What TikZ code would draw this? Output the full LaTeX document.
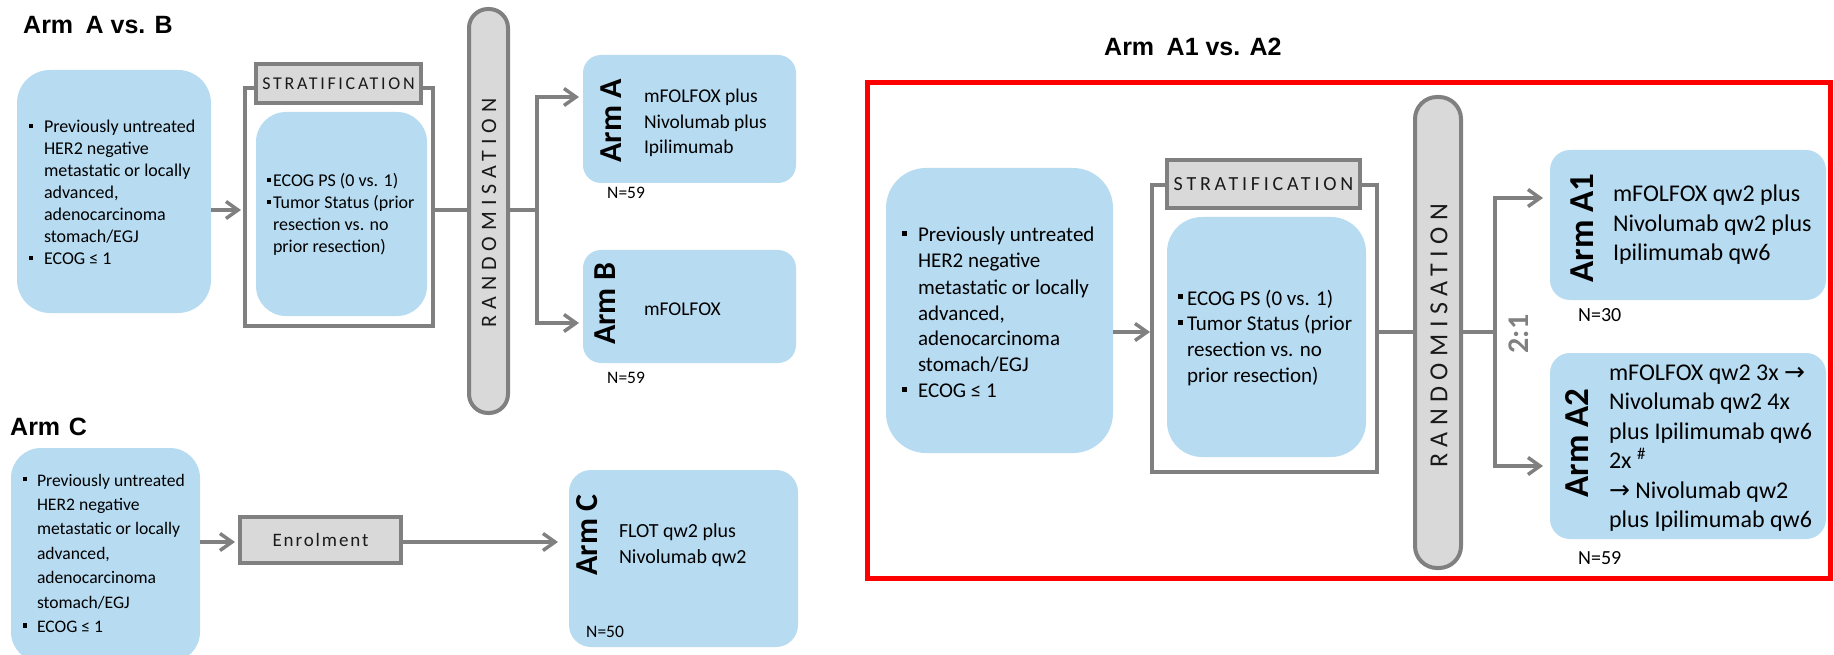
\documentclass[tikz,border=0pt]{standalone}
\usepackage{fontspec}
\setmainfont{Carlito}
\newfontfamily\headfont{Liberation Sans}
\newfontfamily\symfont{DejaVu Sans}
\usetikzlibrary{arrows.meta}
\definecolor{boxblue}{HTML}{B7DBF1}
\definecolor{linegray}{HTML}{808080}
\definecolor{labelgray}{HTML}{D9D9D9}
\definecolor{framered}{HTML}{FF0000}
\definecolor{inkdark}{HTML}{1A1A1A}
\newcommand\bulsq{\rule[0.27em]{0.24em}{0.24em}}
\newcommand\bitem[1]{\makebox[#1][l]{\bulsq}}
\newcommand\bind[1]{\hspace*{#1}}
\newcommand\tblk[4]{\parbox[t]{#1}{\fontsize{#2}{#3}\selectfont #4}}
\newcommand\rarr{{\symfont\fontsize{25}{25}\selectfont →}}
\tikzset{
  bluebox/.style={fill=boxblue, draw=none, rounded corners=#1, inner sep=0pt, outer sep=0pt, anchor=north west},
  bluebox/.default=20pt,
  framebox/.style={draw=linegray, line width=4pt, inner sep=0pt, outer sep=0pt, anchor=north west},
  labelbox/.style={fill=labelgray, draw=linegray, line width=4pt, inner sep=0pt, outer sep=0pt, text=inkdark},
  pillbox/.style={fill=labelgray, draw=linegray, line width=4pt, inner sep=0pt, outer sep=0pt, rounded corners=#1},
  pillbox/.default=19pt,
  conn/.style={draw=linegray, line width=3.5pt},
  arr/.style={conn, -{Straight Barb[length=12pt,width=17pt]}},
  txt/.style={anchor=base west, inner sep=0pt, outer sep=0pt},
  heading/.style={anchor=base west, inner sep=0pt, font=\headfont\bfseries\fontsize{25}{30}\selectfont},
  armlbl/.style={rotate=90, inner sep=0pt, font=\bfseries\fontsize{#1}{#1}\selectfont},
  nlbl/.style={anchor=base west, inner sep=0pt, font=\fontsize{#1}{#1}\selectfont},
  randtxt/.style={rotate=90, inner sep=0pt, text=inkdark},
}
\begin{document}
\begin{tikzpicture}[x=1pt,y=-1pt]
\useasboundingbox (0,0) rectangle (1834,655);

% ---------------- Arm A vs. B ----------------
\node[heading] (titleAB) at (23,34) {Arm\hspace{0.5em}A vs. B};
\node[bluebox=33pt, minimum width=194pt, minimum height=243pt] (L1) at (17,70) {};
\node[txt] (L1t) at (29,133) {\tblk{180pt}{18}{22}{\bitem{15pt}Previously untreated\\ \bind{15pt}HER2 negative\\ \bind{15pt}metastatic or locally\\ \bind{15pt}advanced,\\ \bind{15pt}adenocarcinoma\\ \bind{15pt}stomach/EGJ\\ \bitem{15pt}ECOG ≤ 1}};

\node[framebox, minimum width=188pt, minimum height=238pt] (sfL) at (245,88) {};
\node[bluebox=30pt, minimum width=171pt, minimum height=204pt] (LI) at (256,112) {};
\node[labelbox, minimum width=165pt, minimum height=39pt, font=\fontsize{18}{18}\selectfont\addfontfeatures{LetterSpace=15}] (sLabL) at (338.5,83.5) {STRATIFICATION};
\node[txt] (LIt) at (267,187) {\tblk{160pt}{18}{22}{\bitem{6pt}ECOG PS (0 vs. 1)\\ \bitem{6pt}Tumor Status (prior\\ \bind{6pt}resection vs. no\\ \bind{6pt}prior resection)}};

\node[pillbox=19pt, minimum width=39pt, minimum height=404pt] (pL) at (488.5,211) {};
\node[randtxt, font=\fontsize{22}{22}\selectfont\addfontfeatures{LetterSpace=27}] (rL) at (489,213) {RANDOMISATION};

\node[bluebox=18pt, minimum width=213pt, minimum height=128pt] (armA) at (583,55) {};
\node[armlbl=32] (armAl) at (611,121) {Arm A};
\node[txt] (armAt) at (644,103) {\tblk{150pt}{19.5}{25.5}{mFOLFOX plus\\Nivolumab plus\\Ipilimumab}};
\node[nlbl=17.5] (nA) at (607,199) {N=59};

\node[bluebox=18pt, minimum width=213pt, minimum height=113pt] (armB) at (583,250) {};
\node[armlbl=32] (armBl) at (605,304) {Arm B};
\node[txt, font=\fontsize{19.5}{25.5}\selectfont] (armBt) at (644,315) {mFOLFOX};
\node[nlbl=17.5] (nB) at (607,383) {N=59};

\coordinate (yA) at (0,210);
\coordinate (brL) at (537,210);
\coordinate (yArmA) at (0,97);
\coordinate (yArmB) at (0,323);
\draw[arr, shorten >=4pt] (L1.east |- yA) -- (sfL.west |- yA);
\draw[conn] (sfL.east |- yA) -- (pL.west |- yA);
\draw[conn] (pL.east |- yA) -- (brL);
\draw[arr, shorten >=4pt] (brL) |- (armA.west |- yArmA);
\draw[arr, shorten >=4pt] (brL) |- (armB.west |- yArmB);

% ---------------- Arm C ----------------
\node[heading] (titleC) at (10,435) {Arm\hspace{0.35em}C};
\node[bluebox=30pt, minimum width=189pt, minimum height=214pt] (C1) at (11,448) {};
\node[txt] (C1t) at (23,486) {\tblk{180pt}{17.6}{24.4}{\bitem{14pt}Previously untreated\\ \bind{14pt}HER2 negative\\ \bind{14pt}metastatic or locally\\ \bind{14pt}advanced,\\ \bind{14pt}adenocarcinoma\\ \bind{14pt}stomach/EGJ\\ \bitem{14pt}ECOG ≤ 1}};

\node[labelbox, minimum width=161pt, minimum height=46pt, font=\fontsize{19}{19}\selectfont\addfontfeatures{LetterSpace=10}] (enr) at (320.5,540) {Enrolment};

\node[bluebox=22pt, minimum width=229pt, minimum height=177pt] (armC) at (569,470) {};
\node[armlbl=32] (armCl) at (587,535) {Arm C};
\node[txt] (armCt) at (619,537) {\tblk{160pt}{20}{26}{FLOT qw2 plus\\Nivolumab qw2}};
\node[nlbl=17.5] (nC) at (586,637) {N=50};

\coordinate (yC) at (0,542);
\draw[arr, shorten >=5pt] (C1.east |- yC) -- (enr.west |- yC);
\draw[arr, shorten >=11pt] (enr.east |- yC) -- (armC.west |- yC);

% ---------------- Arm A1 vs. A2 ----------------
\node[heading] (titleA12) at (1104,56) {Arm\hspace{0.5em}A1 vs. A2};
\node[draw=framered, line width=5pt, inner sep=0pt, outer sep=0pt, anchor=north west, minimum width=963pt, minimum height=495.5pt] (redframe) at (867.5,82.5) {};

\node[bluebox=40pt, minimum width=227pt, minimum height=285pt] (R1) at (886,168) {};
\node[txt] (R1t) at (902,242) {\tblk{210pt}{21}{26}{\bitem{16pt}Previously untreated\\ \bind{16pt}HER2 negative\\ \bind{16pt}metastatic or locally\\ \bind{16pt}advanced,\\ \bind{16pt}adenocarcinoma\\ \bind{16pt}stomach/EGJ\\ \bitem{16pt}ECOG ≤ 1}};

\node[framebox, minimum width=225pt, minimum height=287pt] (sfR) at (1152,185) {};
\node[bluebox=35pt, minimum width=199pt, minimum height=240pt] (RI) at (1167,217) {};
\node[labelbox, minimum width=193pt, minimum height=48pt, font=\fontsize{20}{20}\selectfont\addfontfeatures{LetterSpace=19}] (sLabR) at (1263.5,184) {STRATIFICATION};
\node[txt] (RIt) at (1178,305) {\tblk{190pt}{21}{25.7}{\bitem{9pt}ECOG PS (0 vs. 1)\\ \bitem{9pt}Tumor Status (prior\\ \bind{9pt}resection vs. no\\ \bind{9pt}prior resection)}};

\node[pillbox=22pt, minimum width=46pt, minimum height=471pt] (pR) at (1438,332.5) {};
\node[randtxt, font=\fontsize{26}{26}\selectfont\addfontfeatures{LetterSpace=25}] (rR) at (1439,336) {RANDOMISATION};
\node[rotate=90, inner sep=0pt, text=linegray, font=\bfseries\fontsize{30}{30}\selectfont] (ratio) at (1519,334) {2:1};

\node[bluebox=20pt, minimum width=276pt, minimum height=150pt] (A1) at (1550,150) {};
\node[armlbl=35] (A1l) at (1582,228) {Arm A1};
\node[txt] (A1t) at (1613,202) {\tblk{210pt}{24}{29.5}{mFOLFOX qw2 plus\\Nivolumab qw2 plus\\Ipilimumab qw6}};
\node[nlbl=20] (nA1) at (1578,321) {N=30};

\node[bluebox=20pt, minimum width=276pt, minimum height=186pt] (A2) at (1550,353) {};
\node[armlbl=35] (A2l) at (1577,443) {Arm A2};
\node[txt] (A2t) at (1609,380) {\tblk{215pt}{24}{29.5}{mFOLFOX qw2 3x \rarr\\Nivolumab qw2 4x\\plus Ipilimumab qw6\\2x \textsuperscript{\#}\\\rarr\ Nivolumab qw2\\plus Ipilimumab qw6}};
\node[nlbl=20] (nA2) at (1578,564) {N=59};

\coordinate (yR) at (0,332);
\coordinate (brR) at (1495,332);
\coordinate (yA1) at (0,198);
\coordinate (yA2) at (0,466);
\draw[arr, shorten >=2pt] (R1.east |- yR) -- (sfR.west |- yR);
\draw[conn] (sfR.east |- yR) -- (pR.west |- yR);
\draw[conn] (pR.east |- yR) -- (brR);
\draw[arr, shorten >=7pt] (brR) |- (A1.west |- yA1);
\draw[arr, shorten >=7pt] (brR) |- (A2.west |- yA2);
\end{tikzpicture}
\end{document}
